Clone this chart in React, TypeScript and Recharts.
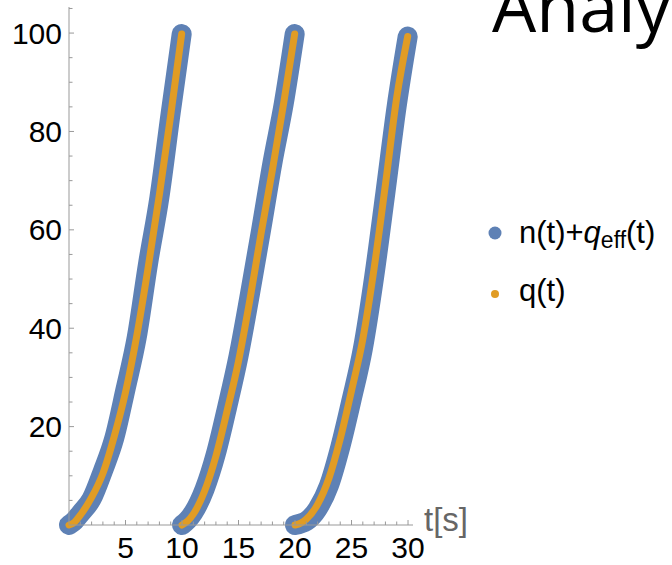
import React from 'react';
import { LineChart, Line, XAxis, YAxis } from 'recharts';

// local time inside one cycle (s); the three cycles start at 0, 10 and 20 s
const localTimes = [0, 0.5, 1, 2, 3, 4, 5, 6, 7, 8, 9, 9.97];
const cycleStarts = [0, 10, 20];

// q(t), smooth orange curve
const qCycle1 = [0, 0.6, 2, 5.6, 10.5, 18, 27, 38.5, 52.3, 67.2, 83.3, 99.8];
const qCycle2 = [0, 0.8, 2.2, 6.9, 14, 23.3, 33.3, 45.7, 59.3, 72.2, 85.8, 99.8];
const qCycle3 = [0, 0.4, 1.2, 4.2, 9.5, 17.5, 27.3, 37.8, 52.2, 69.2, 86.9, 99.3];

// n(t)+q_eff(t), noisy blue band
const nCycle1 = [0, 0.9, 2.3, 5.3, 11, 17.6, 27.6, 38.2, 53.2, 66.6, 83.8, 99.8];
const nCycle2 = [0, 1, 2.5, 7.3, 14.5, 24, 34.3, 46.8, 60, 73.6, 85.6, 99.8];
const nCycle3 = [0, 0.3, 0.8, 3.3, 8, 15.8, 25.4, 35.8, 50.4, 67.6, 85.2, 99.3];

const xTicks = Array.from({ length: 30 }, (_, i) => i + 1);
const yTicks = Array.from({ length: 21 }, (_, i) => (i + 1) * 5);

const qCycles = [qCycle1, qCycle2, qCycle3];
const nCycles = [nCycle1, nCycle2, nCycle3];

const buildCycle = (values: number[], start: number) =>
  localTimes.map((lt, i) => ({ t: start + lt, v: values[i] }));

const BLUE = '#5E81B5';
const ORANGE = '#E19C24';
const AXIS = '#999';
const FONT = '"Liberation Sans", Arial, sans-serif';

const XTick = (props: any) => {
  const { x, y, payload } = props;
  const major = payload.value % 5 === 0;
  return (
    <g>
      <line x1={x} x2={x} y1={y} y2={y - (major ? 5 : 3.5)} stroke={AXIS} strokeWidth={1} />
      {major && (
        <text x={x} y={y + 33} textAnchor="middle" fontSize={30} fill="#000" fontFamily={FONT}>
          {payload.value}
        </text>
      )}
    </g>
  );
};

const YTick = (props: any) => {
  const { x, y, payload } = props;
  const major = payload.value % 20 === 0;
  return (
    <g>
      <line x1={x} x2={x + (major ? 5 : 3.5)} y1={y} y2={y} stroke={AXIS} strokeWidth={1} />
      {major && (
        <text x={x - 7} y={y + 10.5} textAnchor="end" fontSize={30} fill="#000" fontFamily={FONT}>
          {payload.value}
        </text>
      )}
    </g>
  );
};

const App: React.FC = () => {
  return (
    <div style={{ position: 'absolute', left: 0, top: 0, width: 672, height: 565, background: '#fff' }}>
      <LineChart width={672} height={565} margin={{ top: 7, right: 259, bottom: 39, left: 68 }}>
        <XAxis
          type="number"
          dataKey="t"
          domain={[0, 30.44]}
          ticks={xTicks}
          interval={0}
          height={1}
          tickSize={0}
          tickMargin={0}
          tickLine={false}
          tick={<XTick />}
          axisLine={{ stroke: AXIS }}
        />
        <YAxis
          type="number"
          domain={[0, 105.3]}
          ticks={yTicks}
          interval={0}
          width={1}
          tickSize={0}
          tickMargin={0}
          tickLine={false}
          tick={<YTick />}
          axisLine={{ stroke: AXIS }}
        />
        {nCycles.map((vals, i) => (
          <Line
            key={`n-${i}`}
            data={buildCycle(vals, cycleStarts[i])}
            dataKey="v"
            type="monotone"
            stroke={BLUE}
            strokeWidth={20}
            strokeLinecap="round"
            strokeLinejoin="round"
            dot={false}
            activeDot={false}
            isAnimationActive={false}
          />
        ))}
        {qCycles.map((vals, i) => (
          <Line
            key={`q-${i}`}
            data={buildCycle(vals, cycleStarts[i])}
            dataKey="v"
            type="monotone"
            stroke={ORANGE}
            strokeWidth={7}
            strokeLinecap="round"
            strokeLinejoin="round"
            dot={false}
            activeDot={false}
            isAnimationActive={false}
          />
        ))}
      </LineChart>

      <svg width={672} height={565} style={{ position: 'absolute', left: 0, top: 0, pointerEvents: 'none' }}>
        <text x={492} y={32} fontSize={70} fill="#000" fontFamily='"Open Sans", sans-serif'>
          Analysis
        </text>
        <text x={424} y={531} fontSize={33} fill="#666" fontFamily={FONT}>
          t[s]
        </text>
        <circle cx={495} cy={233} r={6.5} fill={BLUE} />
        <text x={519} y={243} fontSize={31} fill="#000" fontFamily={FONT}>
          n(t)+<tspan fontStyle="italic">q</tspan>
          <tspan fontSize={23} dy={5}>eff</tspan>
          <tspan dy={-5}>(t)</tspan>
        </text>
        <circle cx={495} cy={294} r={4} fill={ORANGE} />
        <text x={519} y={301} fontSize={31} fill="#000" fontFamily={FONT}>
          q(t)
        </text>
      </svg>
    </div>
  );
};

export default App;
